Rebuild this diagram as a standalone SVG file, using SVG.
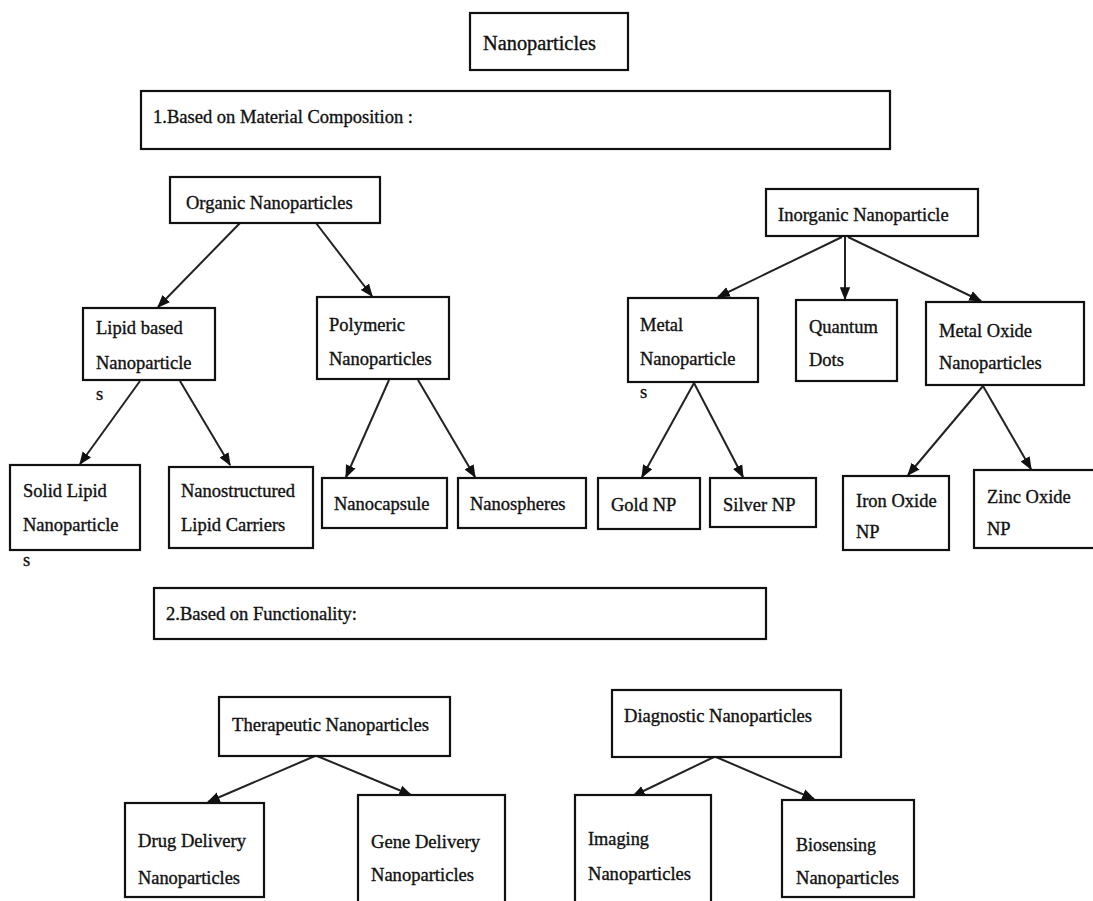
<svg xmlns="http://www.w3.org/2000/svg" width="1093" height="901" viewBox="0 0 1093 901">
<style>
.b{fill:#fff;stroke:#111;stroke-width:2.2}
.t{font-family:"Liberation Serif","Times New Roman",serif;font-size:18.5px;fill:#111;stroke:#111;stroke-width:0.35}
.h{font-family:"Liberation Serif","Times New Roman",serif;font-size:20px;fill:#111;stroke:#111;stroke-width:0.35}
.c{stroke:#222;stroke-width:2;fill:none;marker-end:url(#ah)}
</style>
<defs>
<marker id="ah" viewBox="0 0 10 10" refX="9" refY="5" markerWidth="6.5" markerHeight="6.5" orient="auto" markerUnits="strokeWidth">
<path d="M0,1 L10,5 L0,9 Z" fill="#111"/>
</marker>
</defs>
<rect width="1093" height="901" fill="#fff"/>
<g id="connectors">
<line class="c" x1="240" y1="223" x2="158" y2="307"/>
<line class="c" x1="316" y1="223" x2="372" y2="296"/>
<line class="c" x1="140" y1="381" x2="80" y2="464"/>
<line class="c" x1="180" y1="381" x2="230" y2="465"/>
<line class="c" x1="389" y1="380" x2="346" y2="477"/>
<line class="c" x1="418" y1="380" x2="475" y2="477"/>
<line class="c" x1="842" y1="237" x2="718" y2="297"/>
<line class="c" x1="845" y1="237" x2="845" y2="299"/>
<line class="c" x1="848" y1="237" x2="981" y2="301"/>
<line class="c" x1="694" y1="383" x2="642" y2="477"/>
<line class="c" x1="694" y1="383" x2="743" y2="477"/>
<line class="c" x1="983" y1="386" x2="908" y2="475"/>
<line class="c" x1="983" y1="386" x2="1031" y2="469"/>
<line class="c" x1="315" y1="756" x2="208" y2="802"/>
<line class="c" x1="317" y1="756" x2="411" y2="795"/>
<line class="c" x1="714" y1="757" x2="633" y2="796"/>
<line class="c" x1="716" y1="757" x2="814" y2="799"/>
</g>
<g id="n-root"><rect class="b" x="470" y="13" width="158" height="57"/><text class="h" x="483" y="50" textLength="113" lengthAdjust="spacingAndGlyphs">Nanoparticles</text></g>
<g id="n-sec1"><rect class="b" x="141" y="91" width="749" height="58"/><text class="t" x="153" y="123" textLength="260" lengthAdjust="spacingAndGlyphs">1.Based on Material Composition :</text></g>
<g id="n-organic"><rect class="b" x="170" y="177" width="210" height="46"/><text class="t" x="186" y="209">Organic Nanoparticles</text></g>
<g id="n-inorganic"><rect class="b" x="766" y="189" width="212" height="47"/><text class="t" x="778" y="221">Inorganic Nanoparticle</text></g>
<g id="n-lipid"><rect class="b" x="83" y="308" width="132" height="72"/><text class="t" x="96" y="334">Lipid based</text><text class="t" x="96" y="369">Nanoparticle</text><text class="t" x="96" y="400" font-size="15">s</text></g>
<g id="n-polymeric"><rect class="b" x="317" y="297" width="132" height="82"/><text class="t" x="329" y="331">Polymeric</text><text class="t" x="329" y="365">Nanoparticles</text></g>
<g id="n-metal"><rect class="b" x="628" y="298" width="130" height="84"/><text class="t" x="640" y="331">Metal</text><text class="t" x="640" y="365">Nanoparticle</text><text class="t" x="640" y="398" font-size="15">s</text></g>
<g id="n-quantum"><rect class="b" x="796" y="300" width="101" height="81"/><text class="t" x="809" y="333">Quantum</text><text class="t" x="809" y="366">Dots</text></g>
<g id="n-metaloxide"><rect class="b" x="926" y="302" width="158" height="83"/><text class="t" x="939" y="337">Metal Oxide</text><text class="t" x="939" y="369">Nanoparticles</text></g>
<g id="n-sln"><rect class="b" x="10" y="465" width="130" height="85"/><text class="t" x="23" y="497">Solid Lipid</text><text class="t" x="23" y="531">Nanoparticle</text><text class="t" x="23" y="566" font-size="15">s</text></g>
<g id="n-nlc"><rect class="b" x="169" y="467" width="144" height="81"/><text class="t" x="181" y="497">Nanostructured</text><text class="t" x="181" y="531">Lipid Carriers</text></g>
<g id="n-nanocapsule"><rect class="b" x="322" y="478" width="125" height="50"/><text class="t" x="334" y="510">Nanocapsule</text></g>
<g id="n-nanospheres"><rect class="b" x="458" y="478" width="128" height="50"/><text class="t" x="470" y="510">Nanospheres</text></g>
<g id="n-gold"><rect class="b" x="598" y="478" width="102" height="51"/><text class="t" x="611" y="511">Gold NP</text></g>
<g id="n-silver"><rect class="b" x="710" y="478" width="106" height="49"/><text class="t" x="723" y="511">Silver NP</text></g>
<g id="n-iron"><rect class="b" x="843" y="476" width="106" height="74"/><text class="t" x="856" y="507">Iron Oxide</text><text class="t" x="856" y="538">NP</text></g>
<g id="n-zinc"><rect class="b" x="974" y="470" width="125" height="78"/><text class="t" x="987" y="503">Zinc Oxide</text><text class="t" x="987" y="535">NP</text></g>
<g id="n-sec2"><rect class="b" x="154" y="588" width="612" height="51"/><text class="t" x="166" y="620" textLength="191" lengthAdjust="spacingAndGlyphs">2.Based on Functionality:</text></g>
<g id="n-therapeutic"><rect class="b" x="219" y="697" width="231" height="59"/><text class="t" x="232" y="731" textLength="197" lengthAdjust="spacingAndGlyphs">Therapeutic Nanoparticles</text></g>
<g id="n-diagnostic"><rect class="b" x="612" y="690" width="229" height="67"/><text class="t" x="624" y="722" textLength="188" lengthAdjust="spacingAndGlyphs">Diagnostic Nanoparticles</text></g>
<g id="n-drug"><rect class="b" x="125" y="803" width="139" height="94"/><text class="t" x="138" y="847" textLength="108" lengthAdjust="spacingAndGlyphs">Drug Delivery</text><text class="t" x="138" y="884" textLength="102" lengthAdjust="spacingAndGlyphs">Nanoparticles</text></g>
<g id="n-gene"><rect class="b" x="358" y="795" width="147" height="110"/><text class="t" x="371" y="848" textLength="109" lengthAdjust="spacingAndGlyphs">Gene Delivery</text><text class="t" x="371" y="881" textLength="103" lengthAdjust="spacingAndGlyphs">Nanoparticles</text></g>
<g id="n-imaging"><rect class="b" x="575" y="795" width="136" height="110"/><text class="t" x="588" y="845" textLength="61" lengthAdjust="spacingAndGlyphs">Imaging</text><text class="t" x="588" y="880" textLength="103" lengthAdjust="spacingAndGlyphs">Nanoparticles</text></g>
<g id="n-biosensing"><rect class="b" x="782" y="800" width="132" height="97"/><text class="t" x="796" y="851" textLength="80" lengthAdjust="spacingAndGlyphs">Biosensing</text><text class="t" x="796" y="884" textLength="103" lengthAdjust="spacingAndGlyphs">Nanoparticles</text></g>
</svg>
